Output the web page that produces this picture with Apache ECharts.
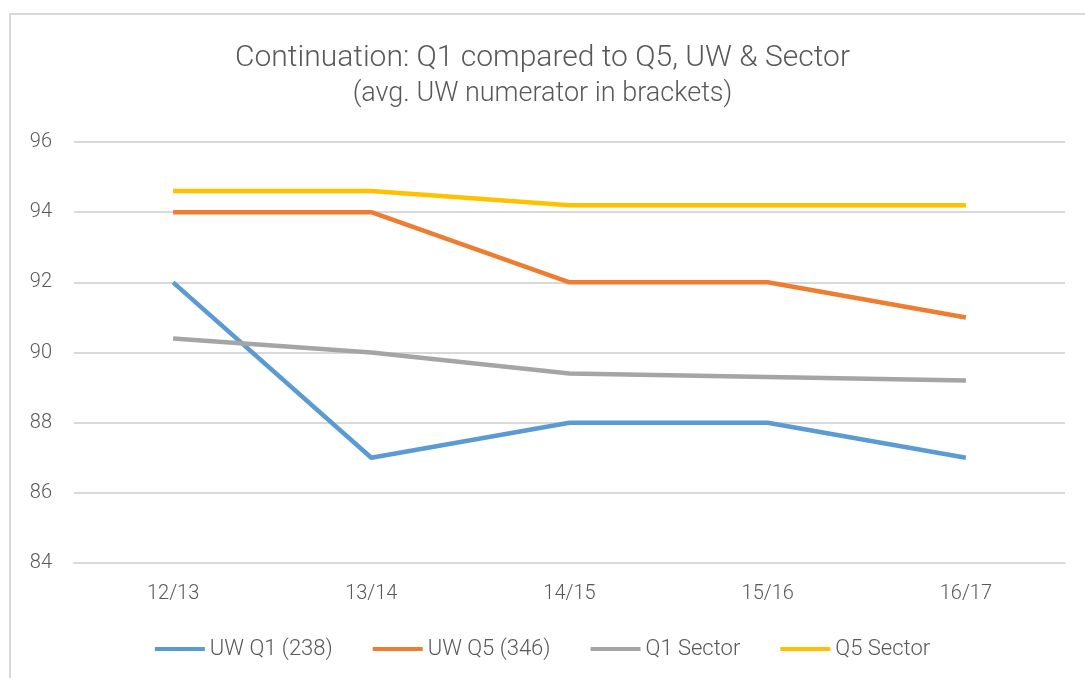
<!DOCTYPE html>
<html>
<head>
<meta charset="utf-8">
<script src="https://cdn.jsdelivr.net/npm/echarts@6/dist/echarts.min.js"></script>
<style>
  html, body { margin: 0; padding: 0; background: #fff; }
  #wrap { position: relative; width: 1085px; height: 678px; overflow: hidden; }
  #frame { position: absolute; left: 9px; top: 13px; width: 1100px; height: 700px;
           border-left: 2px solid #d9d9d9; border-top: 2px solid #d9d9d9; }
  #main { position: absolute; left: 0; top: 0; width: 1085px; height: 678px; }
</style>
</head>
<body>
<div id="wrap">
  <div id="frame"></div>
  <div id="main"></div>
</div>
<script>
// 数据
const seasons = ["12/13", "13/14", "14/15", "15/16", "16/17"];
const uwQ1 = [92, 87, 88, 88, 87];
const uwQ5 = [94, 94, 92, 92, 91];
const q1Sector = [90.4, 90.0, 89.4, 89.3, 89.2];
const q5Sector = [94.6, 94.6, 94.2, 94.2, 94.2];
const yTicks = { min: 84, max: 96, step: 2 };

const font = "Roboto, sans-serif";
const textColor = "#595959";

function line(name, data, color) {
  return {
    name: name,
    type: "line",
    data: data,
    showSymbol: false,
    symbol: "none",
    lineStyle: { color: color, width: 4.5 },
    itemStyle: { color: color },
  };
}

const myChart = echarts.init(document.getElementById("main"));
const option = {
  animation: false,
  title: {
    text: "Continuation: Q1 compared to Q5, UW & Sector",
    subtext: "(avg. UW numerator in brackets)",
    left: "center",
    top: 38,
    itemGap: 8,
    textStyle: { color: textColor, fontFamily: font, fontSize: 30, fontWeight: 300 },
    subtextStyle: { color: textColor, fontFamily: font, fontSize: 27, fontWeight: 300 },
  },
  legend: {
    bottom: 13,
    left: "center",
    icon: "rect",
    itemWidth: 50,
    itemHeight: 4,
    itemGap: 40,
    textStyle: { color: textColor, fontFamily: font, fontSize: 22, fontWeight: 300 },
    data: ["UW Q1 (238)", "UW Q5 (346)", "Q1 Sector", "Q5 Sector"],
  },
  grid: { left: 74, right: 20, top: 142, bottom: 115 },
  xAxis: {
    type: "category",
    data: seasons,
    boundaryGap: true,
    axisLine: { lineStyle: { color: "#d9d9d9", width: 2 } },
    axisTick: { show: false },
    axisLabel: { color: textColor, fontFamily: font, fontSize: 20, fontWeight: 300, margin: 21 },
  },
  yAxis: {
    type: "value",
    min: yTicks.min,
    max: yTicks.max,
    interval: yTicks.step,
    axisLine: { show: false },
    axisTick: { show: false },
    axisLabel: { color: textColor, fontFamily: font, fontSize: 20, fontWeight: 300, margin: 22 },
    splitLine: { lineStyle: { color: "#d9d9d9", width: 2 } },
  },
  series: [
    line("UW Q1 (238)", uwQ1, "#5b9bd5"),
    line("UW Q5 (346)", uwQ5, "#ed7d31"),
    line("Q1 Sector", q1Sector, "#a5a5a5"),
    line("Q5 Sector", q5Sector, "#ffc000"),
  ],
};
myChart.setOption(option);
</script>
</body>
</html>
